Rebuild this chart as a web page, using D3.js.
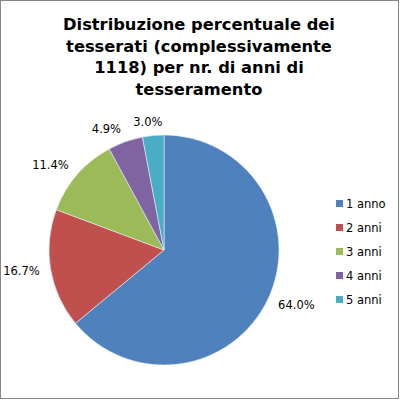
<!DOCTYPE html>
<html>
<head>
<meta charset="utf-8">
<script src="https://cdn.jsdelivr.net/npm/d3@7"></script>
<style>
  body { margin: 0; background: #fff; }
  text { font-family: "DejaVu Sans", sans-serif; fill: #000; }
</style>
</head>
<body>
<div id="chart"></div>
<script>
// chart data
let categories = ["1 anno", "2 anni", "3 anni", "4 anni", "5 anni"];
let percents = [64.0, 16.7, 11.4, 4.9, 3.0];
let colors = ["#4F81BD", "#C0504D", "#9BBB59", "#8064A2", "#4BACC6"];
let titleLines = [
  "Distribuzione percentuale dei",
  "tesserati (complessivamente",
  "1118) per nr. di anni di",
  "tesseramento"
];

let svgWidth = 400;
let svgHeight = 400;

let svg = d3.select("#chart")
  .append("svg")
  .attr("width", svgWidth)
  .attr("height", svgHeight);

// outer border
svg.append("rect")
  .attr("x", 0.5)
  .attr("y", 0.5)
  .attr("width", svgWidth - 2)
  .attr("height", svgHeight - 2)
  .attr("fill", "#fff")
  .attr("stroke", "#868686");

// title
svg.append("g")
  .selectAll("text")
  .data(titleLines)
  .enter()
  .append("text")
  .attr("x", 199)
  .attr("y", (d, i) => 30 + i * 21.5)
  .attr("text-anchor", "middle")
  .attr("font-weight", "bold")
  .attr("font-size", "16.3px")
  .text(d => d);

// pie
let cx = 164, cy = 250, radius = 115;
let pieData = categories.map((c, i) => ({ cat: c, value: percents[i], color: colors[i] }));

let pie = d3.pie()
  .sort(null)
  .value(d => d.value);

let arc = d3.arc()
  .innerRadius(0)
  .outerRadius(radius);

let pieGroup = svg.append("g")
  .attr("transform", `translate(${cx}, ${cy})`);

let slices = pie(pieData);

pieGroup.selectAll("path")
  .data(slices)
  .enter()
  .append("path")
  .attr("d", arc)
  .attr("fill", d => d.data.color)
  .attr("stroke", "#e8eef6")
  .attr("stroke-width", 0.6);

// labels at "outside end": anchor just past the rim, box shifted sideways
pieGroup.selectAll("text.lbl")
  .data(slices)
  .enter()
  .append("text")
  .attr("class", "lbl")
  .attr("font-size", "11.5px")
  .attr("text-anchor", "middle")
  .text(d => d.data.value.toFixed(1) + "%")
  .each(function(d) {
    let a = (d.startAngle + d.endAngle) / 2;
    let w = this.getComputedTextLength();
    let rr = radius + 10;
    let side = Math.max(-1, Math.min(1, 3 * Math.sin(a)));
    let x = Math.sin(a) * rr + side * (w / 2 + 1);
    let y = -Math.cos(a) * rr - Math.cos(a) * 4;
    d3.select(this)
      .attr("x", x)
      .attr("y", y + 4);
  });

// legend
let legend = svg.append("g")
  .attr("transform", "translate(336, 200)");

let rows = legend.selectAll("g")
  .data(pieData)
  .enter()
  .append("g")
  .attr("transform", (d, i) => `translate(0, ${i * 24})`);

rows.append("rect")
  .attr("width", 7)
  .attr("height", 7)
  .attr("fill", d => d.color);

rows.append("text")
  .attr("x", 10)
  .attr("y", 8)
  .attr("font-size", "11.5px")
  .text(d => d.cat);
</script>
</body>
</html>
